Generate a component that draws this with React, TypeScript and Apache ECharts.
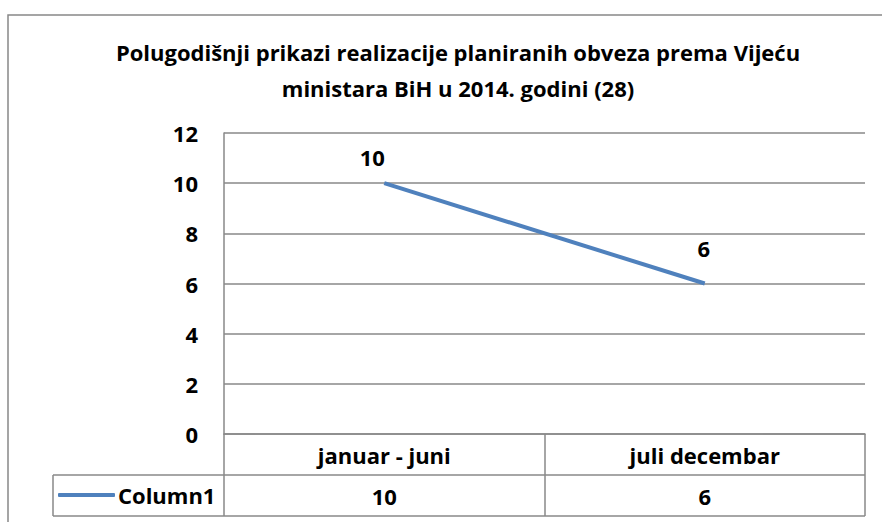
import React, { useEffect, useRef } from "react";
import * as echarts from "echarts";

const titleText = "Polugodišnji prikazi realizacije planiranih obveza prema Vijeću\nministara BiH u 2014. godini (28)";
const categories = ["januar - juni", "juli decembar"];
const seriesName = "Column1";
const values = [10, 6];
const yTicks = { min: 0, max: 12, interval: 2 };

const FONT = "'Open Sans', sans-serif";
const FS = 22;
const GRID_LEFT = 224;
const GRID_RIGHT = 17;
const GRID_TOP = 133;
const GRID_BOTTOM = 88;
const ROW_H = 41;
const LINE_COLOR = "#4F81BD";
const BORDER = "#888888";
const LABEL_OFFSETS = [[-12, 0], [-1, -10]];

export default function App() {
  const ref = useRef<HTMLDivElement>(null);
  useEffect(() => {
    if (!ref.current) return;
    const chart = echarts.init(ref.current, undefined, { renderer: "svg" });
    const W = 882;
    const H = 522;
    const axisY = H - GRID_BOTTOM;
    const tableRight = W - GRID_RIGHT;
    const txt = { fontFamily: FONT, fontWeight: "bold", fontSize: FS, color: "#000" };
    const seriesData = values.map((v, i) => ({ value: v, label: { offset: LABEL_OFFSETS[i] } }));
    chart.setOption({
      animation: false,
      backgroundColor: "#ffffff",
      textStyle: { fontFamily: FONT },
      grid: { left: GRID_LEFT, right: GRID_RIGHT, top: GRID_TOP, bottom: GRID_BOTTOM, containLabel: false },
      legend: {
        show: true,
        left: 58,
        top: axisY + ROW_H + 8,
        icon: "roundRect",
        itemWidth: 57,
        itemHeight: 4,
        itemGap: 0,
        padding: 0,
        textStyle: { ...txt, padding: [0, 0, 0, -2], lineHeight: 24 },
        data: [seriesName],
      },
      xAxis: [
        {
          type: "category",
          data: categories,
          position: "bottom",
          boundaryGap: true,
          axisLine: { show: true, lineStyle: { color: BORDER, width: 1.5 } },
          axisTick: { show: true, length: ROW_H * 2, lineStyle: { color: BORDER, width: 1.5 } },
          axisLabel: { ...txt, margin: 9, lineHeight: 24 },
          splitLine: { show: false },
        },
        {
          type: "category",
          data: categories,
          position: "bottom",
          offset: ROW_H,
          boundaryGap: true,
          axisLine: { show: false },
          axisTick: { show: false },
          axisLabel: {
            ...txt,
            margin: 9,
            lineHeight: 24,
            formatter: (_v: string, i: number) => String(values[i]),
          },
        },
      ],
      yAxis: {
        type: "value",
        min: yTicks.min,
        max: yTicks.max,
        interval: yTicks.interval,
        axisLine: { show: true, lineStyle: { color: BORDER, width: 1.5 } },
        axisTick: { show: false },
        axisLabel: { ...txt, margin: 26 },
        splitLine: { show: true, lineStyle: { color: BORDER, width: 1.5 } },
      },
      series: [
        {
          name: seriesName,
          type: "line",
          xAxisIndex: 0,
          data: seriesData,
          showSymbol: true,
          symbol: "circle",
          symbolSize: 0,
          lineStyle: { color: LINE_COLOR, width: 4 },
          itemStyle: { color: LINE_COLOR },
          label: {
            show: true,
            position: "top",
            distance: 15,
            ...txt,
          },
        },
      ],
      graphic: [
        {
          type: "rect",
          shape: { x: 8, y: 15, width: 900, height: 600 },
          style: { fill: "none", stroke: BORDER, lineWidth: 1.5 },
          silent: true,
          z: -1,
        },
        {
          type: "text",
          x: 458,
          y: 70,
          style: {
            text: titleText,
            fontFamily: FONT,
            fontWeight: "bold",
            fontSize: FS,
            lineHeight: 36,
            fill: "#000",
            textAlign: "center",
            textVerticalAlign: "middle",
          },
        },
        {
          type: "line",
          shape: { x1: 53, y1: axisY + ROW_H, x2: tableRight, y2: axisY + ROW_H },
          style: { stroke: BORDER, lineWidth: 1.5 },
        },
        {
          type: "line",
          shape: { x1: 53, y1: axisY + ROW_H * 2, x2: tableRight, y2: axisY + ROW_H * 2 },
          style: { stroke: BORDER, lineWidth: 1.5 },
        },
        {
          type: "line",
          shape: { x1: 53, y1: axisY + ROW_H, x2: 53, y2: axisY + ROW_H * 2 },
          style: { stroke: BORDER, lineWidth: 1.5 },
        },
      ],
    });
    return () => chart.dispose();
  }, []);
  return <div ref={ref} style={{ width: 882, height: 522, position: "absolute", left: 0, top: 0 }} />;
}
